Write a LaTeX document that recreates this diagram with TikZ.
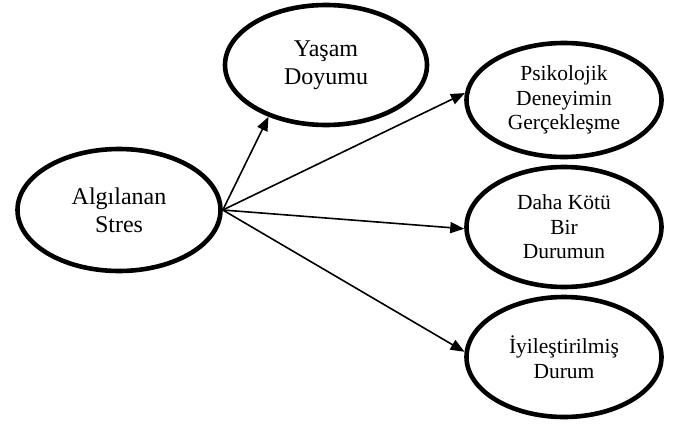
\documentclass[tikz,border=0pt]{standalone}
\usepackage{fontspec}
\setmainfont{Liberation Serif}
\usetikzlibrary{shapes.geometric,arrows.meta}
\begin{document}
\begin{tikzpicture}[x=1pt,y=-1pt,
  oval/.style={ellipse,draw,line width=4.6pt,inner sep=0pt,align=center},
  big/.style={font=\fontsize{24}{28}\selectfont},
  small/.style={font=\fontsize{21.5}{24.5}\selectfont},
  conn/.style={line width=1.6pt,-{Triangle[length=14pt,width=11pt]}}]
\useasboundingbox (0,0) rectangle (676,423);
\node[oval,big,minimum width=203pt,minimum height=122pt] (stres) at (119,210) {Algılanan\\Stres};
\node[oval,big,minimum width=202pt,minimum height=120pt] (yasam) at (326,65) {Yaşam\\Doyumu};
\node[oval,small,minimum width=195pt,minimum height=114pt] (psik) at (564,100) {Psikolojik\\Deneyimin\\Gerçekleşme};
\node[oval,small,minimum width=195pt,minimum height=120pt] (daha) at (564,227) {Daha Kötü\\Bir\\Durumun};
\node[oval,small,minimum width=195pt,minimum height=120pt] (iyi) at (564,357) {İyileştirilmiş\\Durum};
\coordinate (s) at (stres.east);
\draw[conn] (s) -- (yasam.222);
\draw[conn] (s) -- (psik.176);
\draw[conn] (s) -- (daha.181);
\draw[conn] (s) -- (iyi.177);
\end{tikzpicture}
\end{document}
